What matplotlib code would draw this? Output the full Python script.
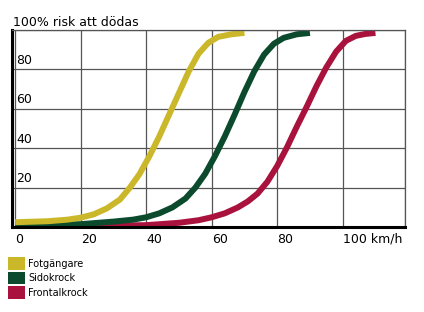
import matplotlib.pyplot as plt
from matplotlib.patches import Patch

# risk of death (%) vs impact speed (km/h)
ped_speed = [0, 10, 16, 20, 24, 28, 32, 35, 38, 41, 44, 47, 50, 53, 56, 59, 62, 66, 70]
ped_risk = [2.5, 3, 3.8, 4.8, 6.5, 9.5, 14, 20, 27, 36, 46, 57, 68, 79, 88, 93.5, 96.5, 97.8, 98.5]

side_speed = [0, 20, 30, 36, 40, 44, 48, 52, 55, 58, 61, 64, 67, 70, 73, 76,
              79, 82, 86, 90]
side_risk = [1.2, 1.5, 2.8, 3.8, 5, 7, 10, 14.5, 20, 27, 36, 46, 57, 68.5, 79,
             87.5, 93, 96, 97.8, 98.5]

front_speed = [0, 20, 40, 50, 56, 60, 64, 68, 71, 74, 77, 80, 83, 86, 89, 92,
               95, 98, 101, 104, 107, 110]
front_risk = [0.6, 0.6, 1, 2.2, 3.5, 5, 7, 10, 13, 17, 23, 31, 40.5, 51, 61,
              71.5, 81, 89, 94.5, 97, 98, 98.5]

labels = ["Fotgängare", "Sidokrock", "Frontalkrock"]
colors = ["#cbb82a", "#0b4a2c", "#a8123d"]

x_ticks = [0, 20, 40, 60, 80, 100]
x_tick_labels = ["0", "20", "40", "60", "80", "100 km/h"]
y_ticks = [20, 40, 60, 80]

fig = plt.figure(figsize=(4.24, 3.12), dpi=100)
ax = fig.add_axes([0.028, 0.272, 0.927, 0.632])

grid_col = "#555555"
ax.set_xlim(-1, 119)
ax.set_ylim(0, 100)
ax.set_xticks(x_ticks + [119])
ax.set_yticks(y_ticks + [100])
ax.grid(True, color=grid_col, linewidth=0.9)
ax.set_axisbelow(True)

series = [(front_speed, front_risk), (side_speed, side_risk), (ped_speed, ped_risk)]
for (sx, sy), c in zip(series, colors[::-1]):
    ax.plot(sx, sy, color=c, linewidth=4.3, solid_capstyle="butt",
            solid_joinstyle="round", clip_on=False)

ax.set_xticklabels(x_tick_labels + [""], fontsize=9)
for lab in ax.get_xticklabels():
    lab.set_horizontalalignment("left")
ax.tick_params(axis="x", length=0, pad=4)
ax.tick_params(axis="y", length=0, labelleft=False)

for v in y_ticks:
    ax.text(0.3, v + 1.2, str(v), fontsize=9, va="bottom", ha="left")

ax.text(0.003, 1.005, "100% risk att dödas", transform=ax.transAxes,
        fontsize=9, va="bottom", ha="left")

for s in ["top", "right"]:
    ax.spines[s].set_color(grid_col)
    ax.spines[s].set_linewidth(0.9)
for s in ["left", "bottom"]:
    ax.spines[s].set_color("black")
    ax.spines[s].set_linewidth(2.2)

handles = [Patch(facecolor=c, edgecolor="none") for c in colors]
fig.legend(handles=handles, labels=labels, loc="upper left",
           bbox_to_anchor=(0.018, 0.175), frameon=False, fontsize=7,
           handlelength=1.75, handleheight=1.6, labelspacing=0.2,
           handletextpad=0.35, borderpad=0, borderaxespad=0)

fig.savefig("out.png", dpi=100, facecolor="white")
